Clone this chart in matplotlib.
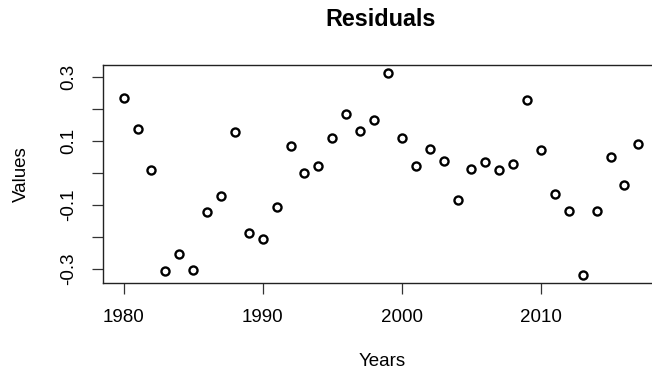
import matplotlib
matplotlib.use("Agg")
import matplotlib.pyplot as plt

plt.rcParams['font.family'] = ['Liberation Sans', 'DejaVu Sans']

# residuals, one per year
years = list(range(1980, 2018))
residuals = [0.235, 0.137, 0.010, -0.306, -0.252, -0.302, -0.122, -0.073,
             0.127, -0.187, -0.205, -0.106, 0.083, -0.001, 0.022, 0.108,
             0.185, 0.130, 0.167, 0.312, 0.108, 0.021, 0.075, 0.039,
             -0.084, 0.013, 0.035, 0.009, 0.028, 0.228, 0.072, -0.066,
             -0.118, -0.318, -0.118, 0.050, -0.037, 0.090]
xticks = [1980, 1990, 2000, 2010]
yticks = [-0.3, -0.2, -0.1, 0.0, 0.1, 0.2, 0.3]
yticklabels = ['-0.3', '', '-0.1', '', '0.1', '', '0.3']

W, H = 652, 376
fig = plt.figure(figsize=(W / 100, H / 100), dpi=100)
# R-style plot region; the right edge runs slightly off the canvas
ax = fig.add_axes([103 / W, 1 - 283 / H, (659 - 103) / W, (283 - 65) / H])

ax.plot(years, residuals, linestyle='none', marker='o', markersize=5.8,
        markerfacecolor='none', markeredgecolor='black', markeredgewidth=1.7)

# R pads the data range by 4%
xr = max(years) - min(years)
ax.set_xlim(min(years) - 0.04 * xr, max(years) + 0.04 * xr)
yr = max(residuals) - min(residuals)
ax.set_ylim(min(residuals) - 0.04 * yr, max(residuals) + 0.04 * yr)

ax.set_xticks(xticks)
ax.set_xticklabels([str(x) for x in xticks])
ax.set_yticks(yticks)
ax.set_yticklabels(yticklabels)
ax.tick_params(axis='both', direction='out', length=8, width=0.9,
               color='#333333', labelsize=13.5, pad=10.5)
for lab in ax.get_yticklabels():
    lab.set_rotation(90)
    lab.set_va('center')
for sp in ax.spines.values():
    sp.set_linewidth(1.0)
    sp.set_color('#222222')

fig.text(381 / W, 1 - 20 / H, 'Residuals', ha='center', va='center',
         fontsize=16.8, fontweight='bold')
fig.text(382 / W, 1 - 362 / H, 'Years', ha='center', va='center', fontsize=13.5)
fig.text(21 / W, 1 - 174 / H, 'Values', ha='center', va='center',
         rotation=90, fontsize=13.5)

fig.savefig('out.png', dpi=100)
